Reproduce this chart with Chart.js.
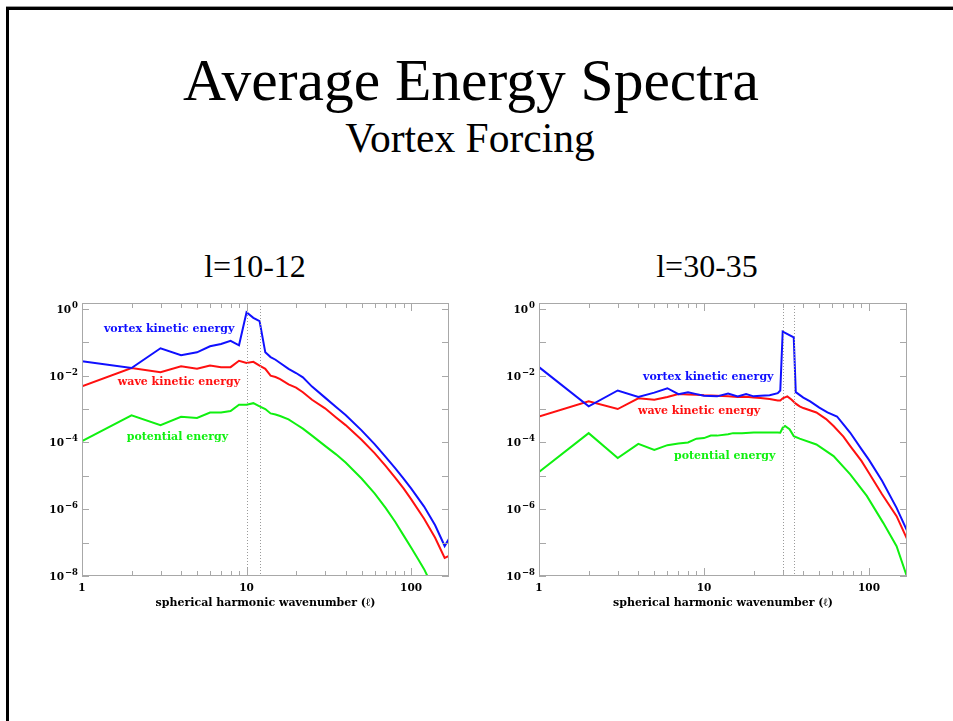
<!DOCTYPE html>
<html>
<head>
<meta charset="utf-8">
<script src="https://cdn.jsdelivr.net/npm/chart.js@4.4.0/dist/chart.umd.min.js"></script>
<style>
  html, body { margin: 0; padding: 0; background: #fff; }
  body { width: 953px; height: 721px; position: relative; overflow: hidden; font-family: 'Liberation Serif', 'Times New Roman', serif; }
  .slide { position: absolute; left: 6px; top: 7px; right: -10px; bottom: -10px; border-top: 3px solid #000; border-left: 3px solid #000; box-shadow: 0 -1px 0 #999; }
  .t { position: absolute; white-space: nowrap; color: #000; transform: translateX(-50%); line-height: 1; }
  #title { left: 471px; top: 51px; font-size: 59.5px; }
  #subtitle { left: 470px; top: 118px; font-size: 41.5px; }
  #capL { left: 255px; top: 250px; font-size: 32px; }
  #capR { left: 707px; top: 250px; font-size: 32px; }
  canvas { position: absolute; }
  #left { left: 40px; top: 290px; }
  #right { left: 497px; top: 290px; }
</style>
</head>
<body>
<div class="slide"></div>
<div class="t" id="title">Average Energy Spectra</div>
<div class="t" id="subtitle">Vortex Forcing</div>
<div class="t" id="capL">l=10-12</div>
<div class="t" id="capR">l=30-35</div>
<canvas id="left" width="415" height="320"></canvas>
<canvas id="right" width="416" height="320"></canvas>
<script>
// tick positions
const xMajorTicks = [1, 10, 100];
const xMinorTicks = [2, 3, 4, 5, 6, 7, 8, 9, 20, 30, 40, 50, 60, 70, 80, 90];
const yLabelTicks = [1e-8, 1e-6, 1e-4, 1e-2, 1];
const yDecadeTicks = [1e-8, 1e-7, 1e-6, 1e-5, 1e-4, 1e-3, 1e-2, 1e-1, 1];

// l = 10-12 forcing
const lLeft = [1, 2, 3, 4, 5, 6, 7, 8, 9, 10, 11, 12, 13, 14, 15, 16, 18, 20, 22, 25, 30, 35, 40, 50, 60, 70, 80, 90, 100, 120, 140, 160, 170];
const vortexLeft = [2.7e-2, 1.7e-2, 6.6e-2, 4.1e-2, 5.0e-2, 7.6e-2, 8.9e-2, 1.1e-1, 8.1e-2, 7.9e-1, 5.4e-1, 4.3e-1, 5.0e-2, 3.6e-2, 3.0e-2, 2.4e-2, 1.6e-2, 1.2e-2, 8.9e-3, 4.7e-3, 2.2e-3, 1.15e-3, 6.6e-4, 2.3e-4, 8.9e-5, 3.7e-5, 1.7e-5, 8.3e-6, 4.2e-6, 1.2e-6, 3.3e-7, 7.9e-8, 1.3e-7];
const waveLeft = [4.8e-3, 1.7e-2, 1.26e-2, 1.9e-2, 1.6e-2, 2.0e-2, 1.8e-2, 1.8e-2, 2.8e-2, 2.4e-2, 2.6e-2, 2.0e-2, 1.6e-2, 1.0e-2, 9.1e-3, 7.9e-3, 5.5e-3, 4.4e-3, 3.2e-3, 1.9e-3, 1.05e-3, 5.6e-4, 3.3e-4, 1.2e-4, 4.8e-5, 2.0e-5, 8.9e-6, 4.2e-6, 2.0e-6, 5.2e-7, 1.4e-7, 3.5e-8, 4.0e-8];
const lLeftPot = [1, 2, 3, 4, 5, 6, 7, 8, 9, 10, 11, 12, 13, 14, 15, 16, 18, 20, 22, 25, 30, 35, 40, 50, 60, 70, 80, 90, 100, 110, 120, 130];
const potLeft = [1.1e-4, 6.5e-4, 3.3e-4, 5.9e-4, 5.4e-4, 7.9e-4, 7.9e-4, 8.7e-4, 1.35e-3, 1.35e-3, 1.5e-3, 1.2e-3, 1.0e-3, 7.4e-4, 6.9e-4, 6.2e-4, 4.9e-4, 3.5e-4, 2.6e-4, 1.6e-4, 7.9e-5, 4.4e-5, 2.5e-5, 8.3e-6, 3.0e-6, 1.1e-6, 4.2e-7, 1.65e-7, 7.1e-8, 3.3e-8, 1.6e-8, 7.1e-9];

// l = 30-35 forcing
const lRightVortex = [1, 2, 3, 4, 5, 6, 7, 8, 9, 10, 12, 14, 16, 18, 20, 22, 25, 28, 29, 30, 35, 36, 40, 44, 50, 56, 64, 70, 77, 90, 100, 120, 147, 170];
const vortexRight = [1.8e-2, 1.2e-3, 3.6e-3, 2.3e-3, 3.1e-3, 4.2e-3, 2.8e-3, 3.2e-3, 2.8e-3, 2.5e-3, 2.4e-3, 2.9e-3, 2.4e-3, 2.8e-3, 2.4e-3, 2.5e-3, 2.6e-3, 3.0e-3, 3.6e-3, 2.1e-1, 1.4e-1, 3.2e-3, 2.2e-3, 1.7e-3, 1.1e-3, 7.9e-4, 6.0e-4, 3.5e-4, 1.95e-4, 6.3e-5, 3.0e-5, 7.1e-6, 1.1e-6, 2.3e-7];
const lRightWave = [1, 2, 3, 4, 5, 6, 7, 8, 9, 10, 12, 14, 16, 18, 20, 22, 25, 28, 29, 30, 32, 34, 36, 38, 40, 48, 55, 61, 70, 77, 90, 97, 120, 147, 170];
const waveRight = [6.0e-4, 1.7e-3, 1.0e-3, 2.1e-3, 1.9e-3, 2.3e-3, 2.8e-3, 2.75e-3, 2.7e-3, 2.6e-3, 2.5e-3, 2.4e-3, 2.3e-3, 2.35e-3, 2.2e-3, 2.15e-3, 2.0e-3, 1.8e-3, 1.8e-3, 2.1e-3, 2.4e-3, 1.9e-3, 1.45e-3, 1.2e-3, 1.07e-3, 7.9e-4, 5.0e-4, 3.1e-4, 1.5e-4, 7.8e-5, 2.8e-5, 1.55e-5, 2.8e-6, 6.2e-7, 1.3e-7];
const lRightPot = [1, 2, 3, 4, 5, 6, 7, 8, 9, 10, 11, 12, 14, 15, 17, 20, 25, 28, 29, 30, 31, 33, 35, 38, 48, 61, 77, 97, 122, 147, 170];
const potRight = [1.3e-5, 1.9e-4, 3.4e-5, 9.1e-5, 6.0e-5, 8.3e-5, 9.3e-5, 1.0e-4, 1.3e-4, 1.35e-4, 1.6e-4, 1.6e-4, 1.75e-4, 1.9e-4, 1.9e-4, 2.0e-4, 2.0e-4, 2.0e-4, 1.95e-4, 2.75e-4, 3.1e-4, 2.5e-4, 1.55e-4, 1.3e-4, 8.7e-5, 3.9e-5, 1.1e-5, 2.5e-6, 3.9e-7, 7.8e-8, 9.5e-9];

const BLUE = '#1010ff', RED = '#ff1010', GREEN = '#10f010';
const LABEL_FONT = "bold 11px 'DejaVu Serif'";
const TICK_FONT = "bold 10.5px 'DejaVu Serif'";
const EXP_FONT = "bold 8.5px 'DejaVu Serif'";

function pts(ls, vs) {
    return ls.map(function (l, i) { return { x: l, y: vs[i] }; });
}

// box, inward ticks, 10^n labels, forcing lines and curve labels (IDL style)
const framePlugin = {
    id: 'frame',
    afterDatasetsDraw(chart, args, opts) {
        const ctx = chart.ctx;
        const a = chart.chartArea;
        const x = chart.scales.x, y = chart.scales.y;
        ctx.save();

        ctx.strokeStyle = '#9a9a9a';
        ctx.lineWidth = 1;
        ctx.setLineDash([1, 2]);
        opts.band.forEach(function (l) {
            const px = Math.round(x.getPixelForValue(l)) + 0.5;
            ctx.beginPath(); ctx.moveTo(px, a.top); ctx.lineTo(px, a.bottom); ctx.stroke();
        });
        ctx.setLineDash([]);

        ctx.strokeStyle = '#a8a8a8';
        ctx.strokeRect(a.left + 0.5, a.top + 0.5, a.right - a.left - 1, a.bottom - a.top - 1);

        function xTick(l, len) {
            const px = Math.round(x.getPixelForValue(l)) + 0.5;
            ctx.beginPath();
            ctx.moveTo(px, a.bottom); ctx.lineTo(px, a.bottom - len);
            ctx.moveTo(px, a.top); ctx.lineTo(px, a.top + len);
            ctx.stroke();
        }
        xMajorTicks.forEach(function (l) { xTick(l, 8); });
        xMinorTicks.forEach(function (l) { xTick(l, 5); });
        yDecadeTicks.forEach(function (v) {
            const py = Math.round(y.getPixelForValue(v)) + 0.5;
            ctx.beginPath();
            ctx.moveTo(a.left, py); ctx.lineTo(a.left + 7, py);
            ctx.moveTo(a.right, py); ctx.lineTo(a.right - 7, py);
            ctx.stroke();
        });

        // y labels: 10 with raised exponent
        ctx.fillStyle = '#000';
        ctx.textAlign = 'right';
        ctx.textBaseline = 'alphabetic';
        yLabelTicks.forEach(function (v) {
            const py = y.getPixelForValue(v);
            const n = Math.round(Math.log10(v));
            const exp = n < 0 ? '\u2212' + (-n) : String(n);
            const right = a.left - 4;
            ctx.font = EXP_FONT;
            const w = ctx.measureText(exp).width;
            ctx.fillText(exp, right, py - 1);
            ctx.font = TICK_FONT;
            ctx.fillText('10', right - w - 1, py + 4);
        });

        ctx.font = LABEL_FONT;
        ctx.textBaseline = 'middle';
        ctx.textAlign = 'left';
        opts.labels.forEach(function (lb) {
            ctx.fillStyle = lb.color;
            ctx.fillText(lb.text, x.getPixelForValue(lb.l), y.getPixelForValue(lb.e));
        });
        ctx.restore();
    }
};

function makeChart(id, series, band, labels) {
    const tickFont = { family: 'DejaVu Serif', size: 10.5, weight: 'bold' };
    return new Chart(document.getElementById(id), {
        type: 'line',
        data: {
            datasets: series.map(function (s) {
                return { data: s.data, borderColor: s.color, borderWidth: 2, pointRadius: 0, tension: 0, fill: false };
            })
        },
        options: {
            responsive: false,
            animation: false,
            devicePixelRatio: 1,
            parsing: false,
            layout: { padding: { top: 13, right: 6, left: 0, bottom: 0 } },
            plugins: {
                legend: { display: false },
                tooltip: { enabled: false },
                frame: { band: band, labels: labels }
            },
            scales: {
                x: {
                    type: 'logarithmic', min: 1, max: 170,
                    grid: { display: false, drawTicks: false },
                    border: { display: false },
                    afterBuildTicks: function (s) { s.ticks = xMajorTicks.map(function (v) { return { value: v }; }); },
                    afterFit: function (s) { s.height = 34; },
                    ticks: { autoSkip: false, maxRotation: 0, padding: 6, color: '#000', font: tickFont, callback: function (v) { return String(v); } },
                    title: { display: true, text: 'spherical harmonic wavenumber (\u2113)', color: '#000', font: { family: 'DejaVu Serif', size: 11, weight: 'bold' }, padding: { top: 0, bottom: 0 } }
                },
                y: {
                    type: 'logarithmic', min: 1e-8, max: 1.5,
                    grid: { display: false, drawTicks: false },
                    border: { display: false },
                    afterBuildTicks: function (s) { s.ticks = yLabelTicks.map(function (v) { return { value: v }; }); },
                    afterFit: function (s) { s.width = 42; },
                    ticks: { display: false }
                }
            }
        },
        plugins: [framePlugin]
    });
}

makeChart('left', [
    { data: pts(lLeft, vortexLeft), color: BLUE },
    { data: pts(lLeft, waveLeft), color: RED },
    { data: pts(lLeftPot, potLeft), color: GREEN }
], [10, 12], [
    { text: 'vortex kinetic energy', l: 1.36, e: 0.24, color: BLUE },
    { text: 'wave kinetic energy', l: 1.65, e: 6.6e-3, color: RED },
    { text: 'potential energy', l: 1.87, e: 1.4e-4, color: GREEN }
]);

makeChart('right', [
    { data: pts(lRightVortex, vortexRight), color: BLUE },
    { data: pts(lRightWave, waveRight), color: RED },
    { data: pts(lRightPot, potRight), color: GREEN }
], [30, 35], [
    { text: 'vortex kinetic energy', l: 4.27, e: 8.8e-3, color: BLUE },
    { text: 'wave kinetic energy', l: 3.98, e: 8.5e-4, color: RED },
    { text: 'potential energy', l: 6.58, e: 3.8e-5, color: GREEN }
]);
</script>
</body>
</html>
